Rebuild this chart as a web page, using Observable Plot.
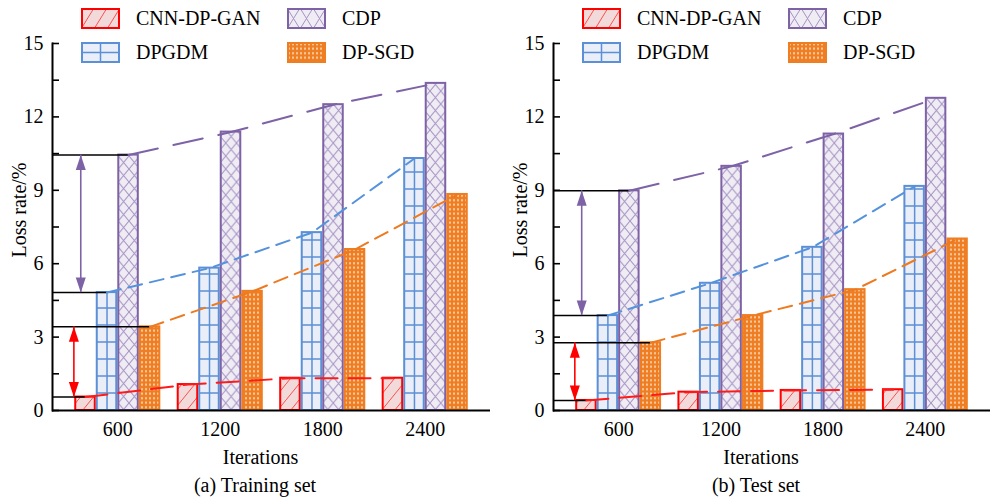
<!DOCTYPE html>
<html><head><meta charset="utf-8">
<script src="https://cdn.jsdelivr.net/npm/d3@7"></script>
<script src="https://cdn.jsdelivr.net/npm/@observablehq/plot@0.6"></script>
<style>
body{margin:0;background:#fff;font-family:'Liberation Serif';}
#wrap{position:relative;width:990px;height:500px;font-family:'Liberation Serif';color:#000;overflow:hidden}
.panel{position:absolute;top:0;height:500px}
.panel svg.plot{position:absolute;left:0;top:0}
.panel svg.plot text{font-family:'Liberation Serif' !important}
.item{position:absolute;display:flex;align-items:center;height:21px;font-size:20px;white-space:nowrap;font-family:'Liberation Serif'}
.item svg{margin-right:16px;flex:none}
.caption{position:absolute;top:472px;left:0;width:510px;text-align:center;font-size:20px;line-height:26px;font-family:'Liberation Serif'}
</style></head>
<body>
<svg width="0" height="0" style="position:absolute">
<defs>
<pattern id="pCNN" patternUnits="userSpaceOnUse" width="13" height="16">
 <rect width="13" height="16" fill="#f3dada"/>
 <path d="M0,16 L13,0" stroke="#ff4d4d" stroke-width="1"/>
</pattern>
<pattern id="pCDP" patternUnits="userSpaceOnUse" width="10.75" height="13">
 <rect width="10.75" height="13" fill="#efecf4"/>
 <path d="M0,0 L10.75,13 M10.75,0 L0,13" stroke="#a592c4" stroke-width="1"/>
</pattern>
<pattern id="pDPGDM" patternUnits="userSpaceOnUse" x="0" y="1" width="40" height="17">
 <rect width="40" height="17" fill="#e9eef8"/>
 <path d="M0,1 H40" stroke="#5b8fd6" stroke-width="1.5"/>
</pattern>
<pattern id="pSGD" patternUnits="userSpaceOnUse" width="4" height="4.5">
 <rect width="4" height="4.5" fill="#ef7d22"/>
 <rect x="1" y="1.2" width="2" height="2" fill="#f9cfa8"/>
</pattern>
<pattern id="lgCNN" patternUnits="userSpaceOnUse" width="13" height="21">
 <rect width="13" height="21" fill="#f3dada"/>
 <path d="M0,21 L13,0" stroke="#ff4d4d" stroke-width="1"/>
</pattern>
<pattern id="lgCDP" patternUnits="userSpaceOnUse" width="13" height="21">
 <rect width="13" height="21" fill="#efecf4"/>
 <path d="M0,0 L13,21 M13,0 L0,21" stroke="#a592c4" stroke-width="1"/>
</pattern>
</defs>
</svg>
<div id="wrap">
  <div class="panel" id="p1" style="left:0;width:495px"></div>
  <div class="panel" id="p2" style="left:501px;width:489px"></div>
</div>
<script>
// ---- data ----
const iterations = ["600", "1200", "1800", "2400"];
const methods = ["CNN-DP-GAN", "DPGDM", "CDP", "DP-SGD"];
const yTickLabels = [0, 3, 6, 9, 12, 15];
const yTickMarks = [0, 1.5, 3, 4.5, 6, 7.5, 9, 10.5, 12, 13.5, 15];

// (a) Training set
const trainCNN   = [0.55, 1.06, 1.32, 1.32];
const trainDPGDM = [4.82, 5.82, 7.27, 10.30];
const trainCDP   = [10.44, 11.38, 12.50, 13.37];
const trainSGD   = [3.42, 4.87, 6.58, 8.83];

// (b) Test set
const testCNN   = [0.41, 0.75, 0.82, 0.85];
const testDPGDM = [3.88, 5.20, 6.67, 9.16];
const testCDP   = [8.98, 9.98, 11.30, 12.76];
const testSGD   = [2.77, 3.88, 4.94, 7.01];

const captions = ["(a) Training set", "(b) Test set"];
const xLabel = "Iterations";
const yLabel = "Loss rate/%";

// ---- styles ----
const FONT = "Liberation Serif";
const sty = {
  "CNN-DP-GAN": {fill: "url(#pCNN)", lg: "url(#lgCNN)", stroke: "#ff0000", line: "#ff1a1a", dash: "22,11"},
  "DPGDM":      {fill: "url(#pDPGDM)", lg: "#e9eef8", stroke: "#5b8fd6", line: "#5592dc", dash: "14,8"},
  "CDP":        {fill: "url(#pCDP)", lg: "url(#lgCDP)", stroke: "#7e62a6", line: "#7e62a6", dash: "30,16"},
  "DP-SGD":     {fill: "url(#pSGD)", lg: "url(#pSGD)", stroke: "#ef7d22", line: "#ee7a20", dash: "14,8"}
};

function legend(el) {
  const pos = [[81, 8], [287, 8], [81, 42], [287, 42]];
  const order = ["CNN-DP-GAN", "CDP", "DPGDM", "DP-SGD"];
  order.forEach((m, k) => {
    const s = sty[m];
    const div = document.createElement("div");
    div.className = "item";
    div.style.left = pos[k][0] + "px";
    div.style.top = pos[k][1] + "px";
    let extra = "";
    if (m === "DPGDM") extra = `<path d="M19.5,1 V20 M1,10.5 H38" stroke="${s.stroke}" stroke-width="1.5"/>`;
    div.innerHTML = `<svg width="39" height="21"><rect x="1" y="1" width="37" height="19" fill="${s.lg}"/>${extra}<rect x="1" y="1" width="37" height="19" fill="none" stroke="${s.stroke}" stroke-width="2"/></svg><span>${m}</span>`;
    el.appendChild(div);
  });
}

function panel(el, series, W, mr, caption) {
  const ml = 52, mt = 43, mb = 60, H = 470;
  const plotW = W - ml - mr;
  const pi = 0.16, po = 0.217;
  const band = d3.scaleBand().domain(iterations).range([0, plotW]).paddingInner(pi).paddingOuter(po);
  const bw = band.bandwidth(), sw = bw / 4;
  const start0 = band(iterations[0]);

  const rows = [];
  methods.forEach((m, i) => iterations.forEach((it, j) => rows.push({method: m, iter: it, value: series[i][j]})));
  const byM = (m) => rows.filter((r) => r.method === m);
  const first = (m) => rows.find((r) => r.method === m && r.iter === iterations[0]);

  const marks = [];
  // bars
  methods.forEach((m, i) => {
    marks.push(Plot.barY(byM(m), {
      x: "iter", y: "value",
      insetLeft: i * sw + 1, insetRight: (3 - i) * sw + 1,
      fill: sty[m].fill, stroke: sty[m].stroke, strokeWidth: 2
    }));
  });
  // DPGDM vertical grid line at bar center
  marks.push(Plot.ruleX(byM("DPGDM"), {x: "iter", y1: 0, y2: "value", dx: -0.5 * sw, stroke: sty.DPGDM.stroke, strokeWidth: 1.5}));
  // axes
  marks.push(Plot.ruleY([0], {stroke: "#000", strokeWidth: 2}));
  marks.push(Plot.frame({anchor: "left", stroke: "#000", strokeWidth: 2}));
  marks.push(Plot.ruleY(yTickMarks, {y: (d) => d, insetRight: plotW - 7, stroke: "#000", strokeWidth: 1.6}));
  marks.push(Plot.axisY({ticks: yTickLabels, tickSize: 0, tickPadding: 9, label: null, fontSize: 20, fontFamily: FONT, tickFormat: (d) => String(d)}));
  marks.push(Plot.axisX({tickSize: 0, tickPadding: 11, label: null, fontSize: 20, fontFamily: FONT}));
  marks.push(Plot.text([yLabel], {frameAnchor: "left", textAnchor: "middle", lineAnchor: "middle", rotate: -90, dx: -33, dy: -17, fontSize: 20, fontFamily: FONT}));
  marks.push(Plot.text([xLabel], {frameAnchor: "bottom", textAnchor: "middle", lineAnchor: "middle", dy: 47, dx: -11, fontSize: 20, fontFamily: FONT}));
  // reference lines at the first group: from the axis to the bar centre
  methods.forEach((m, i) => {
    marks.push(Plot.ruleY([first(m)], {y: "value", insetRight: plotW - (start0 + (i + 0.5) * sw), stroke: "#000", strokeWidth: 1.6}));
  });
  // double arrows
  const arrows = [
    {top: first("CDP"), bot: first("DPGDM"), color: "#7e62a6", off: -0.43 * bw},
    {top: first("DP-SGD"), bot: first("CNN-DP-GAN"), color: "#ff0000", off: -0.51 * bw}
  ];
  arrows.forEach((a) => {
    const d = [{iter: a.top.iter, y1: a.top.value, y2: a.bot.value}];
    marks.push(Plot.ruleX(d, {x: "iter", y1: "y1", y2: "y2", dx: a.off, stroke: a.color, strokeWidth: 1.6}));
    marks.push(Plot.vector(d, {x: "iter", y: "y1", dx: a.off, length: 15, r: 5, rotate: 0, anchor: "end", shape: "spike", fill: a.color, stroke: "none"}));
    marks.push(Plot.vector(d, {x: "iter", y: "y2", dx: a.off, length: 15, r: 5, rotate: 180, anchor: "end", shape: "spike", fill: a.color, stroke: "none"}));
  });
  // dashed trend lines
  methods.forEach((m, i) => {
    marks.push(Plot.line(byM(m), {x: "iter", y: "value", dx: (i - 1.5) * sw, stroke: sty[m].line, strokeWidth: 2, strokeDasharray: sty[m].dash}));
  });

  const svg = Plot.plot({
    width: W, height: H, marginLeft: ml, marginRight: mr, marginTop: mt, marginBottom: mb,
    style: {fontFamily: FONT, fontSize: "20px", background: "transparent", color: "#000", overflow: "visible"},
    x: {type: "band", domain: iterations, paddingInner: pi, paddingOuter: po, round: false},
    y: {domain: [0, 15], range: [H - mb, mt]},
    marks
  });
  svg.classList.add("plot");
  el.appendChild(svg);
  legend(el);
  const cap = document.createElement("div");
  cap.className = "caption";
  cap.textContent = caption;
  el.appendChild(cap);
}

panel(document.getElementById("p1"), [trainCNN, trainDPGDM, trainCDP, trainSGD], 495, 5, captions[0]);
panel(document.getElementById("p2"), [testCNN, testDPGDM, testCDP, testSGD], 489, 0, captions[1]);
</script>
</body></html>
